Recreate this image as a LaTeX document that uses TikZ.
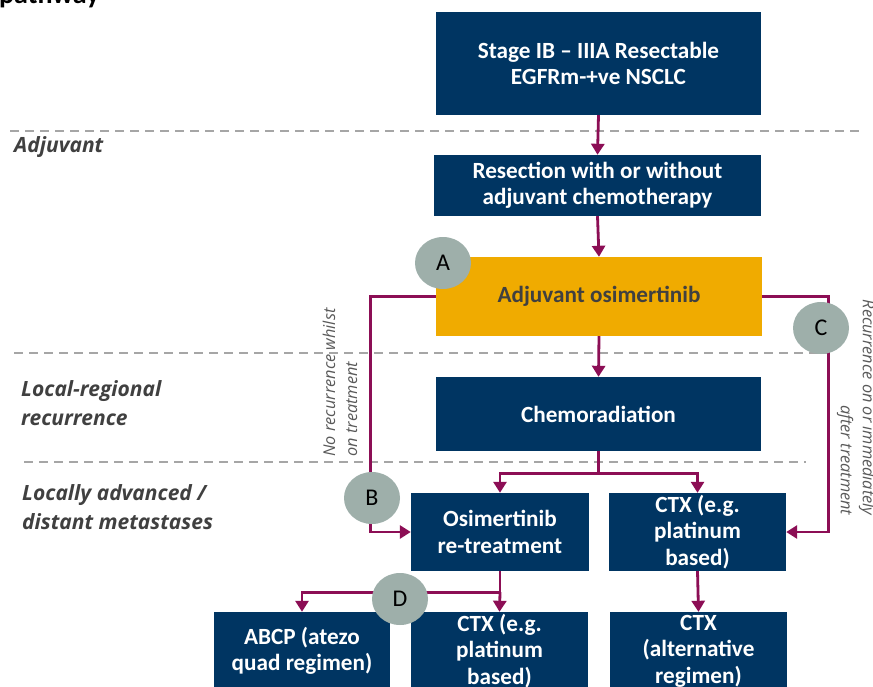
\documentclass[tikz,border=0pt]{standalone}
\usepackage{fontspec}
\setmainfont{Carlito}
\newfontfamily\labfont{Open Sans}
\usetikzlibrary{arrows.meta,shapes.geometric}
\definecolor{navy}{HTML}{003562}
\definecolor{gold}{HTML}{F0AB00}
\definecolor{plum}{HTML}{8C0E55}
\definecolor{sage}{HTML}{9EAFAA}
\definecolor{dashgray}{HTML}{A6A6A6}
\definecolor{labgray}{HTML}{404040}
\definecolor{notegray}{HTML}{595959}
\begin{document}
\begin{tikzpicture}[x=1pt,y=-1pt,
  box/.style={fill=navy, text=white, font=\bfseries\fontsize{23.2}{26.5}\selectfont, align=center, inner sep=0pt},
  goldbox/.style={fill=gold, text=labgray, font=\bfseries\fontsize{23.2}{26.5}\selectfont, align=center, inner sep=0pt},
  conn/.style={draw=plum, line width=2.8pt, -{Triangle[width=13pt,length=11pt]}},
  wire/.style={draw=plum, line width=2.8pt},
  badge/.style={ellipse, fill=sage, minimum width=56pt, minimum height=52pt, inner sep=0pt, font=\fontsize{24}{24}\selectfont},
  sepline/.style={draw=dashgray, line width=2.5pt, dash pattern=on 9pt off 6pt},
  phase/.style={font=\labfont\bfseries\itshape\fontsize{21}{29}\selectfont, text=labgray, align=left, anchor=west, inner sep=0pt},
  note/.style={font=\labfont\itshape\fontsize{16.3}{22}\selectfont, text=notegray, inner sep=0pt}
]
\useasboundingbox (0,0) rectangle (873,686);
\clip (0,0) rectangle (873,686);
\fill[white] (0,0) rectangle (873,686);

\node[anchor=base west, inner sep=0pt, font=\bfseries\fontsize{28}{28}\selectfont] (title) at (-1,3) {pathway};

% separators
\draw[sepline] (10,131) -- (860,131);
\draw[sepline] (14,353) -- (830,353);
\draw[sepline] (24,462) -- (806,462);

% phase labels
\node[phase] (lab1) at (14,147) {Adjuvant};
\node[phase] (lab2) at (21,403) {Local-regional\\recurrence};
\node[phase] (lab3) at (22,507) {Locally advanced /\\distant metastases};

% boxes
\node[box, minimum width=325pt, minimum height=103pt] (b1) at (598.5,63.5) {Stage IB -- IIIA Resectable\\EGFRm-+ve NSCLC};
\node[box, minimum width=327pt, minimum height=61pt] (b2) at (597.5,185.5) {Resection with or without\\adjuvant chemotherapy};
\node[goldbox, minimum width=326pt, minimum height=79pt] (b3) at (599,296.5) {Adjuvant osimertinib};
\node[box, minimum width=325pt, minimum height=74pt] (b4) at (598.5,414) {Chemoradiation};
\node[box, minimum width=178pt, minimum height=78pt] (b5) at (500,532) {Osimertinib\\re-treatment};
\node[box, minimum width=177pt, minimum height=78pt] (b6) at (697.5,532) {CTX (e.g.\\platinum\\based)};
\node[box, minimum width=176pt, minimum height=78pt] (b7) at (302,651) {ABCP (atezo\\quad regimen)};
\node[box, minimum width=177pt, minimum height=78pt] (b8) at (499.5,651) {CTX (e.g.\\platinum\\based)};
\node[box, minimum width=177pt, minimum height=78pt] (b9) at (698.5,651) {CTX\\(alternative\\regimen)};

% connectors
\draw[conn] (b1.south) -- (b2.north);
\draw[conn] (b2.south) -- (b3.north);
\draw[conn] (b3.south) -- (b4.north);
\draw[wire] (b4.south) -- ++(0,22) coordinate (j1);
\draw[conn] (j1) -| (b5.north);
\draw[conn] (j1) -| (b6.north);
\draw[conn] (b3.west) -- ++(-65,0) |- (b5.west);
\draw[conn] (b3.east) -- ++(66,0) |- (b6.east);
\draw[wire] (b5.south) -- ++(0,21) coordinate (j2);
\draw[conn] (j2) -- (b8.north);
\draw[conn] (j2) -| (b7.north);
\draw[conn] (b6.south) -- (b9.north);

% badges
\node[badge] (cA) at (443,263) {A};
\node[badge] (cB) at (372,498) {B};
\node[badge] (cC) at (821,328) {C};
\node[badge] (cD) at (400,599) {D};

% side notes
\node[note, rotate=90, align=left] (n1) at (340,382.5) {No recurrence whilst\\on treatment};
\node[note, rotate=-90, align=right] (n2) at (856,407.5) {Recurrence on or immediately\\after treatment};
\end{tikzpicture}
\end{document}
